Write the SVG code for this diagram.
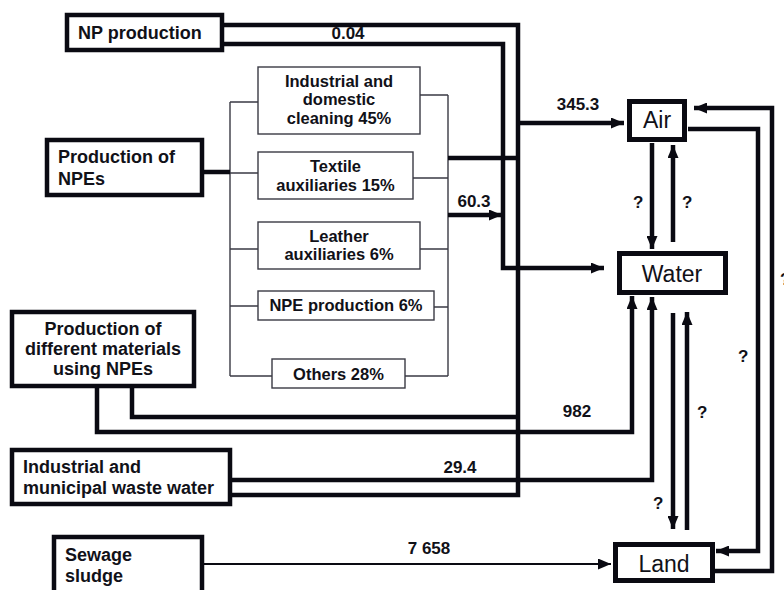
<svg xmlns="http://www.w3.org/2000/svg" width="784" height="590" viewBox="0 0 784 590">
<style>
  .box{fill:#fff;stroke:#0a0a12;stroke-width:4.5}
  .env{fill:#fff;stroke:#0a0a12;stroke-width:5}
  .sub{fill:#fff;stroke:#3a3a44;stroke-width:1.4}
  .br{fill:none;stroke:#3a3a44;stroke-width:1.4}
  .th{fill:none;stroke:#0a0a12;stroke-width:4.5;stroke-linejoin:miter}
  .tn{fill:none;stroke:#0a0a12;stroke-width:2}
  text{font-family:"Liberation Sans",Arial,sans-serif;fill:#111118}
  .b{font-weight:bold;font-size:18px}
  .s{font-weight:bold;font-size:16.5px}
  .n{font-weight:bold;font-size:17px}
  .q{font-weight:bold;font-size:17px}
  .e{font-size:23px}
</style>
<defs>
  <marker id="ah" markerUnits="userSpaceOnUse" markerWidth="13" markerHeight="11" refX="13" refY="5.5" orient="auto">
    <path d="M0,0 L13,5.5 L0,11 z" fill="#0a0a12"/>
  </marker>
</defs>

<g id="connectors">
  <!-- bracket lines (thin) -->
  <path class="br" d="M230,102 V376 M230,102 H258 M230,173 H258 M230,249 H258 M230,306 H258 M230,376 H272"/>
  <path class="br" d="M448,95 V376 M420,95 H448 M413,178 H448 M420,249 H448 M434,307 H448 M405,376 H448"/>
  <!-- thick flows -->
  <path class="th" d="M204,172 H230"/>
  <path class="th" d="M224,25 H518 V495 H232"/>
  <path class="th" d="M448,158 H518"/>
  <path class="th" d="M518,123 H624" marker-end="url(#ah)"/>
  <path class="th" d="M448,215 H502" marker-end="url(#ah)"/>
  <path class="th" d="M224,44 H503 V268 H604" marker-end="url(#ah)"/>
  <path class="th" d="M132,388 V417 H518"/>
  <path class="th" d="M97,388 V432 H632 V296" marker-end="url(#ah)"/>
  <path class="th" d="M232,480 H652 V297" marker-end="url(#ah)"/>
  <path class="th" d="M652,143 V249" marker-end="url(#ah)"/>
  <path class="th" d="M673,242 V145" marker-end="url(#ah)"/>
  <path class="th" d="M673,313 V529" marker-end="url(#ah)"/>
  <path class="th" d="M687,530 V312" marker-end="url(#ah)"/>
  <path class="th" d="M688,129 H758 V551 H716" marker-end="url(#ah)"/>
  <path class="th" d="M715,571 H772 V108 H694" marker-end="url(#ah)"/>
  <path class="tn" d="M204,564 H611" marker-end="url(#ah)"/>
  <!-- flow labels -->
  <text class="n" x="348" y="39" text-anchor="middle">0.04</text>
  <text class="n" x="578" y="110" text-anchor="middle">345.3</text>
  <text class="n" x="474" y="207" text-anchor="middle">60.3</text>
  <text class="n" x="577" y="417" text-anchor="middle">982</text>
  <text class="n" x="460" y="473" text-anchor="middle">29.4</text>
  <text class="n" x="429" y="554" text-anchor="middle">7 658</text>
  <text class="q" x="633" y="208">?</text>
  <text class="q" x="682" y="208">?</text>
  <text class="q" x="738" y="362">?</text>
  <text class="q" x="697" y="418">?</text>
  <text class="q" x="653" y="509">?</text>
  <text class="q" x="780" y="285">?</text>
</g>

<g id="np-production">
  <rect class="box" x="67" y="15" width="155" height="35"/>
  <text class="b" x="78" y="39">NP production</text>
</g>

<g id="production-npes">
  <rect class="box" x="47" y="140" width="155" height="55"/>
  <text class="b" x="58" y="163">Production of</text>
  <text class="b" x="58" y="185">NPEs</text>
</g>

<g id="cleaning">
  <rect class="sub" x="258" y="67" width="162" height="67"/>
  <text class="s" x="339" y="87" text-anchor="middle">Industrial and</text>
  <text class="s" x="339" y="105" text-anchor="middle">domestic</text>
  <text class="s" x="339" y="124" text-anchor="middle">cleaning 45%</text>
</g>

<g id="textile">
  <rect class="sub" x="258" y="152" width="155" height="47"/>
  <text class="s" x="335.5" y="172" text-anchor="middle">Textile</text>
  <text class="s" x="335.5" y="191" text-anchor="middle">auxiliaries 15%</text>
</g>

<g id="leather">
  <rect class="sub" x="258" y="222" width="162" height="47"/>
  <text class="s" x="339" y="242" text-anchor="middle">Leather</text>
  <text class="s" x="339" y="260" text-anchor="middle">auxiliaries 6%</text>
</g>

<g id="npe-production">
  <rect class="sub" x="258" y="291" width="176" height="29"/>
  <text class="s" x="346" y="311" text-anchor="middle">NPE production 6%</text>
</g>

<g id="others">
  <rect class="sub" x="272" y="359" width="133" height="29"/>
  <text class="s" x="338.5" y="380" text-anchor="middle">Others 28%</text>
</g>

<g id="different-materials">
  <rect class="box" x="12" y="312" width="182" height="74"/>
  <text class="b" x="103" y="335" text-anchor="middle">Production of</text>
  <text class="b" x="103" y="355" text-anchor="middle">different materials</text>
  <text class="b" x="103" y="375" text-anchor="middle">using NPEs</text>
</g>

<g id="waste-water">
  <rect class="box" x="12" y="450" width="218" height="54"/>
  <text class="b" x="23" y="473">Industrial and</text>
  <text class="b" x="23" y="494">municipal waste water</text>
</g>

<g id="sewage-sludge">
  <rect class="box" x="54" y="537" width="148" height="60"/>
  <text class="b" x="65" y="561">Sewage</text>
  <text class="b" x="65" y="582">sludge</text>
</g>

<g id="air">
  <rect class="env" x="629.5" y="101.5" width="55" height="38"/>
  <text class="e" x="657" y="128" text-anchor="middle">Air</text>
</g>

<g id="water">
  <rect class="env" x="619.5" y="253.5" width="106" height="39"/>
  <text class="e" x="672" y="282" text-anchor="middle">Water</text>
</g>

<g id="land">
  <rect class="env" x="615.5" y="544.5" width="97" height="36"/>
  <text class="e" x="664" y="572" text-anchor="middle">Land</text>
</g>
</svg>
